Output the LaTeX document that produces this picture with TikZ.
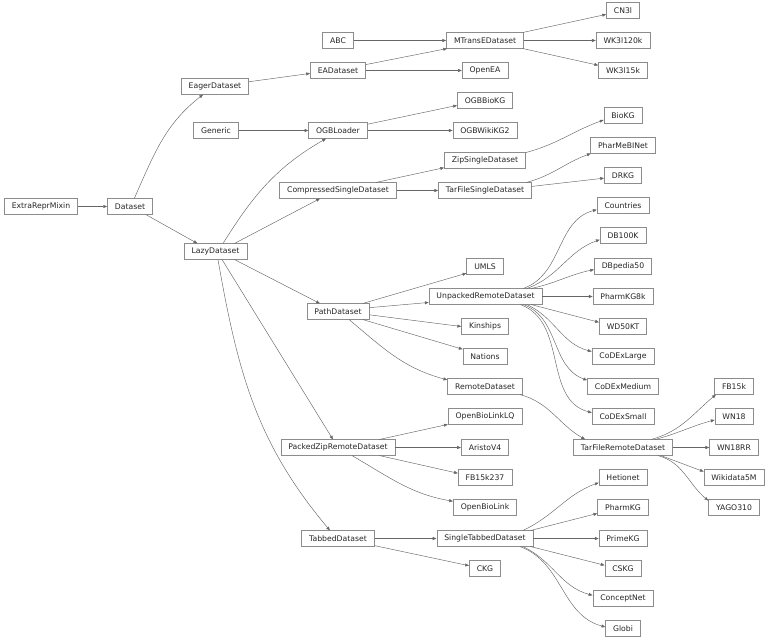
\documentclass[tikz,border=0pt]{standalone}
\usepackage{fontspec}
\setmainfont{DejaVu Sans}
\usetikzlibrary{arrows.meta}

\begin{document}
\begin{tikzpicture}[x=1pt, y=-1pt,
    font=\fontsize{7.7}{8}\selectfont,
    cls/.style={draw=black!45, line width=0.6pt, fill=white, text=black!85, minimum height=15.5pt, inner xsep=7.5pt, inner ysep=0pt},
    inh/.style={draw=black!60, line width=0.45pt, -{Triangle[length=3.8pt,width=3pt]}}]

    \useasboundingbox (0,0.5) rectangle (768,641.5);

    % roots
    \node[cls] (extra) at (41,207) {ExtraReprMixin};
    \node[cls] (dataset) at (130,207) {Dataset};
    \node[cls] (eager) at (215,87) {EagerDataset};
    \node[cls] (lazy) at (215.5,252) {LazyDataset};
    \node[cls] (generic) at (216,131) {Generic};

    % second column
    \node[cls] (abc) at (338,41) {ABC};
    \node[cls] (ea) at (338,71) {EADataset};
    \node[cls] (ogb) at (338,131) {OGBLoader};
    \node[cls] (compressed) at (338,191) {CompressedSingleDataset};
    \node[cls] (path) at (338,312) {PathDataset};
    \node[cls] (packed) at (338,448) {PackedZipRemoteDataset};
    \node[cls] (tabbed) at (338,539) {TabbedDataset};

    % third column
    \node[cls] (mtranse) at (485,41) {MTransEDataset};
    \node[cls] (openea) at (485,71) {OpenEA};
    \node[cls] (ogbbiokg) at (485,101) {OGBBioKG};
    \node[cls] (ogbwikikg) at (485,131) {OGBWikiKG2};
    \node[cls] (zip) at (485,161) {ZipSingleDataset};
    \node[cls] (tarsingle) at (485,191) {TarFileSingleDataset};
    \node[cls] (umls) at (485,267) {UMLS};
    \node[cls] (unpacked) at (485.5,297) {UnpackedRemoteDataset};
    \node[cls] (kinships) at (485,327) {Kinships};
    \node[cls] (nations) at (485,357) {Nations};
    \node[cls] (remote) at (485,387) {RemoteDataset};
    \node[cls] (openbiolinklq) at (485,417) {OpenBioLinkLQ};
    \node[cls] (aristo) at (485,448) {AristoV4};
    \node[cls] (fb237) at (485,478) {FB15k237};
    \node[cls] (openbiolink) at (485,508) {OpenBioLink};
    \node[cls] (singletabbed) at (485,539) {SingleTabbedDataset};
    \node[cls] (ckg) at (485,569) {CKG};

    % fourth column
    \node[cls] (cn3l) at (623,11) {CN3l};
    \node[cls] (wk120) at (623,41) {WK3l120k};
    \node[cls] (wk15) at (623,71) {WK3l15k};
    \node[cls] (biokg) at (623,116) {BioKG};
    \node[cls] (pharmebinet) at (623,146) {PharMeBINet};
    \node[cls] (drkg) at (623,176) {DRKG};
    \node[cls] (countries) at (623,206) {Countries};
    \node[cls] (db100k) at (623,236) {DB100K};
    \node[cls] (dbpedia) at (623,267) {DBpedia50};
    \node[cls] (pharmkg8k) at (623,297) {PharmKG8k};
    \node[cls] (wd50kt) at (623,327) {WD50KT};
    \node[cls] (codexl) at (623,357) {CoDExLarge};
    \node[cls] (codexm) at (623,387) {CoDExMedium};
    \node[cls] (codexs) at (623,417) {CoDExSmall};
    \node[cls] (tarremote) at (623,448) {TarFileRemoteDataset};
    \node[cls] (hetionet) at (623,478) {Hetionet};
    \node[cls] (pharmkg) at (623,508) {PharmKG};
    \node[cls] (primekg) at (623,539) {PrimeKG};
    \node[cls] (cskg) at (623,569) {CSKG};
    \node[cls] (conceptnet) at (623,599) {ConceptNet};
    \node[cls] (globi) at (623,629) {Globi};

    % fifth column
    \node[cls] (fb15k) at (734,387) {FB15k};
    \node[cls] (wn18) at (734,417) {WN18};
    \node[cls] (wn18rr) at (734,448) {WN18RR};
    \node[cls] (wikidata) at (734,478) {Wikidata5M};
    \node[cls] (yago) at (734,508) {YAGO310};

    % inheritance
    \draw[inh] (extra.east) -- (dataset.west);
    \draw[inh] (dataset.62) to[out=66,in=218] (eager.214);
    \draw[inh] (dataset.-27) -- (lazy.156);
    \draw[inh] (eager.8) -- (ea.186);
    \draw[inh] (abc.east) -- (mtranse.west);
    \draw[inh] (ea.12) -- (mtranse.192);
    \draw[inh] (ea.east) -- (openea.west);
    \draw[inh] (mtranse.12) -- (cn3l.193);
    \draw[inh] (mtranse.east) -- (wk120.west);
    \draw[inh] (mtranse.-12) -- (wk15.168);
    \draw[inh] (generic.east) -- (ogb.west);
    \draw[inh] (lazy.47) to[out=58,in=210] (ogb.214);
    \draw[inh] (ogb.12) -- (ogbbiokg.190);
    \draw[inh] (ogb.east) -- (ogbwikikg.west);
    \draw[inh] (lazy.23) -- (compressed.204);
    \draw[inh] (compressed.12) -- (zip.190);
    \draw[inh] (compressed.east) -- (tarsingle.west);
    \draw[inh] (zip.11) to[out=15,in=200] (biokg.193);
    \draw[inh] (tarsingle.11) to[out=15,in=200] (pharmebinet.194);
    \draw[inh] (tarsingle.5) -- (drkg.188);
    \draw[inh] (lazy.-23) -- (path.156);
    \draw[inh] (path.18) -- (umls.200);
    \draw[inh] (path.7) -- (unpacked.186);
    \draw[inh] (path.-6) -- (kinships.west);
    \draw[inh] (path.-18) -- (nations.162);
    \draw[inh] (path.-36) to[out=-40,in=165] (remote.170);
    \draw[inh] (unpacked.12) to[out=20,in=195] (countries.189);
    \draw[inh] (unpacked.11) to[out=20,in=200] (db100k.190);
    \draw[inh] (unpacked.10) to[out=12,in=192] (dbpedia.186);
    \draw[inh] (unpacked.east) -- (pharmkg8k.west);
    \draw[inh] (unpacked.-10) -- (wd50kt.170);
    \draw[inh] (unpacked.-11) to[out=-25,in=165] (codexl.171);
    \draw[inh] (unpacked.-12) to[out=-20,in=160] (codexm.170);
    \draw[inh] (unpacked.-13) to[out=-20,in=165] (codexs.173);
    \draw[inh] (remote.-13) to[out=-15,in=150] (tarremote.168);
    \draw[inh] (tarremote.16) to[out=15,in=220] (fb15k.204);
    \draw[inh] (tarremote.14) to[out=15,in=195] (wn18.190);
    \draw[inh] (tarremote.east) -- (wn18rr.west);
    \draw[inh] (tarremote.-12) -- (wikidata.169);
    \draw[inh] (tarremote.-13) to[out=-15,in=140] (yago.165);
    \draw[inh] (lazy.-51) -- (packed.122);
    \draw[inh] (lazy.-73) to[out=-80,in=130] (tabbed.135);
    \draw[inh] (packed.11) -- (openbiolinklq.192);
    \draw[inh] (packed.east) -- (aristo.west);
    \draw[inh] (packed.-11) -- (fb237.171);
    \draw[inh] (packed.-30) to[out=-30,in=170] (openbiolink.169);
    \draw[inh] (tabbed.east) -- (singletabbed.west);
    \draw[inh] (tabbed.-11) -- (ckg.170);
    \draw[inh] (singletabbed.12) to[out=25,in=200] (hetionet.192);
    \draw[inh] (singletabbed.10) -- (pharmkg.193);
    \draw[inh] (singletabbed.east) -- (primekg.west);
    \draw[inh] (singletabbed.-10) -- (cskg.170);
    \draw[inh] (singletabbed.-12) to[out=-25,in=165] (conceptnet.174);
    \draw[inh] (singletabbed.-13) to[out=-20,in=165] (globi.175);
    %
\end{tikzpicture}
\end{document}
